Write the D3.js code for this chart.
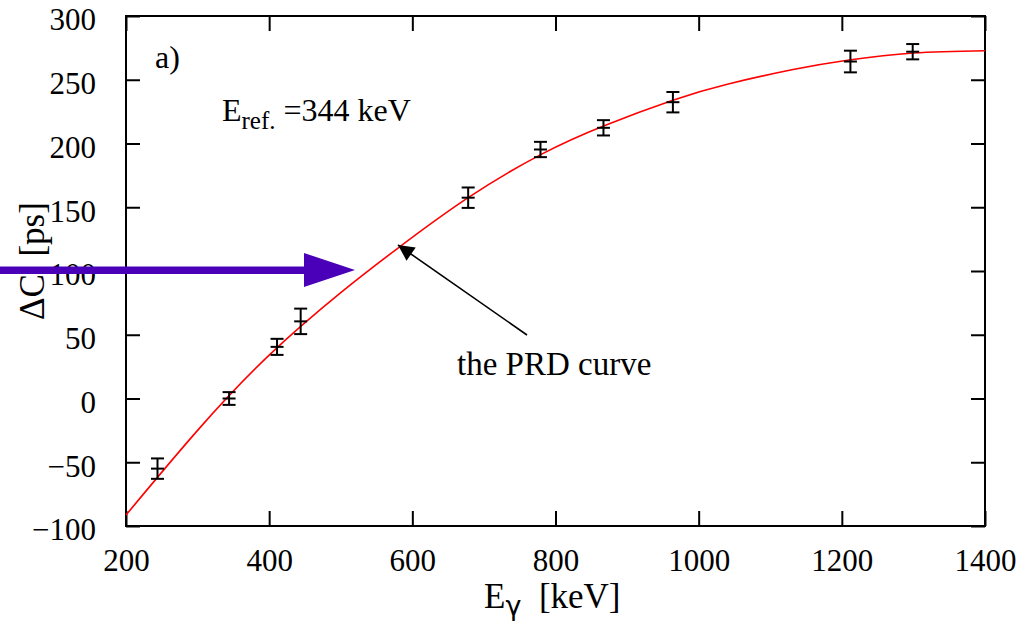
<!DOCTYPE html>
<html>
<head>
<meta charset="utf-8">
<script src="https://cdn.jsdelivr.net/npm/d3@7"></script>
<style>
  body { margin: 0; background: #fff; }
  svg text { font-family: "Liberation Serif", "Times New Roman", Times, serif; fill: #000; }
</style>
</head>
<body>
<script>
'use strict';

// measured points (keV, ps, error)
const energies = [244, 344, 411, 444, 678, 779, 867, 964, 1212, 1299];
const deltaC = [-55, 0, 40.5, 60.5, 157.5, 195.3, 212.3, 232.4, 264.3, 272];
const errors = [8, 5, 6.3, 10, 8, 6, 6, 8, 8.5, 6];

// PRD curve
const curveE = [200, 300, 400, 500, 580, 678, 780, 868, 964, 1040, 1132, 1210, 1300, 1400];
const curveC = [-91.4, -25, 34, 83, 118, 157.5, 191.5, 214, 234, 246.5, 258, 265.5, 271, 272.8];

const xTicks = [200, 400, 600, 800, 1000, 1200, 1400];
const yTicks = [-100, -50, 0, 50, 100, 150, 200, 250, 300];

const serif = '"Liberation Serif", "Times New Roman", Times, serif';

(function () {
  const W = 1025, H = 623;
  const left = 126, right = 985, top = 16, bottom = 526;

  const svg = d3.select('body').append('svg')
    .attr('width', W)
    .attr('height', H);

  const x = d3.scaleLinear().domain([200, 1400]).range([left, right]);
  const y = d3.scaleLinear().domain([-100, 300]).range([bottom, top]);

  // axes with inward ticks (and mirrored ones)
  const fs = 31;
  svg.append('g')
    .attr('transform', 'translate(0,' + bottom + ')')
    .call(d3.axisBottom(x).tickValues(xTicks).tickSize(-15).tickPadding(23).tickFormat(d3.format('d')));
  svg.append('g')
    .attr('transform', 'translate(0,' + top + ')')
    .call(d3.axisTop(x).tickValues(xTicks).tickSize(-15).tickFormat(''));
  const gy = svg.append('g')
    .attr('transform', 'translate(' + left + ',0)')
    .call(d3.axisLeft(y).tickValues(yTicks).tickSize(-14).tickPadding(30).tickFormat(d => d < 0 ? '\u2212' + (-d) : d));
  svg.append('g')
    .attr('transform', 'translate(' + right + ',0)')
    .call(d3.axisRight(y).tickValues(yTicks).tickSize(-14).tickFormat(''));

  svg.selectAll('.domain').remove();
  svg.selectAll('g').attr('font-family', null);
  svg.selectAll('.tick line').attr('stroke', '#000').attr('stroke-width', 2);
  svg.selectAll('.tick text')
    .style('font-family', serif)
    .style('font-size', fs + 'px');
  gy.selectAll('.tick text').attr('dy', '0.45em');

  // frame
  svg.append('rect')
    .attr('x', left).attr('y', top)
    .attr('width', right - left).attr('height', bottom - top)
    .attr('fill', 'none').attr('stroke', '#000').attr('stroke-width', 2);

  // PRD curve
  const line = d3.line()
    .x((d, i) => x(curveE[i]))
    .y((d, i) => y(curveC[i]))
    .curve(d3.curveNatural);
  svg.append('path')
    .datum(curveE)
    .attr('d', line)
    .attr('fill', 'none')
    .attr('stroke', '#ff0000')
    .attr('stroke-width', 1.6);

  // error bars
  const pts = energies.map((e, i) => ({ e: e, c: deltaC[i], err: errors[i] }));
  const cap = 6.5;
  const eb = svg.append('g').attr('stroke', '#000').attr('stroke-width', 2);
  pts.forEach(d => {
    const px = x(d.e);
    eb.append('line').attr('x1', px).attr('x2', px).attr('y1', y(d.c + d.err)).attr('y2', y(d.c - d.err));
    eb.append('line').attr('x1', px - cap).attr('x2', px + cap).attr('y1', y(d.c + d.err)).attr('y2', y(d.c + d.err));
    eb.append('line').attr('x1', px - cap).attr('x2', px + cap).attr('y1', y(d.c - d.err)).attr('y2', y(d.c - d.err));
    eb.append('line').attr('x1', px - cap).attr('x2', px + cap).attr('y1', y(d.c)).attr('y2', y(d.c));
  });

  // labels
  svg.append('text')
    .attr('x', 155).attr('y', 68)
    .style('font-size', '32px')
    .text('a)');

  const eref = svg.append('text')
    .attr('x', 222).attr('y', 121)
    .style('font-size', '32px');
  eref.append('tspan').text('E');
  eref.append('tspan').attr('dy', 8).style('font-size', '25px').text('ref.');
  eref.append('tspan').attr('dy', -8).text(' =344 keV');

  const xl = svg.append('text')
    .attr('x', 484).attr('y', 608)
    .style('font-size', '35px');
  xl.append('tspan').text('E');
  xl.append('tspan').attr('dy', 7).style('font-size', '27px').style('font-family', '"DejaVu Sans", sans-serif').text('\u03b3');
  xl.append('tspan').attr('dy', -7).text('\u00a0 [keV]');

  svg.append('text')
    .attr('transform', 'translate(44,261) rotate(-90)')
    .attr('text-anchor', 'middle')
    .style('font-size', '35px')
    .text('\u0394C\u00a0 [ps]');

  // annotation arrow
  svg.append('defs').append('marker')
    .attr('id', 'ahead')
    .attr('viewBox', '0 0 10 10')
    .attr('refX', 10).attr('refY', 5)
    .attr('markerUnits', 'userSpaceOnUse')
    .attr('markerWidth', 22).attr('markerHeight', 16)
    .attr('orient', 'auto')
    .append('path').attr('d', 'M0,0 L10,5 L0,10 Z').attr('fill', '#000');
  svg.append('line')
    .attr('x1', 527).attr('y1', 335)
    .attr('x2', 398).attr('y2', 245)
    .attr('stroke', '#000').attr('stroke-width', 1.6)
    .attr('marker-end', 'url(#ahead)');

  svg.append('text')
    .attr('x', 457).attr('y', 375)
    .style('font-size', '33px')
    .text('the PRD curve');

  // big blue arrow
  const blue = '#4a00b8';
  svg.append('rect')
    .attr('x', 0).attr('y', 266.5)
    .attr('width', 306).attr('height', 7.5)
    .attr('fill', blue);
  svg.append('path')
    .attr('d', 'M304,253 L355,270 L304,287 Z')
    .attr('fill', blue);
})();
</script>
</body>
</html>
